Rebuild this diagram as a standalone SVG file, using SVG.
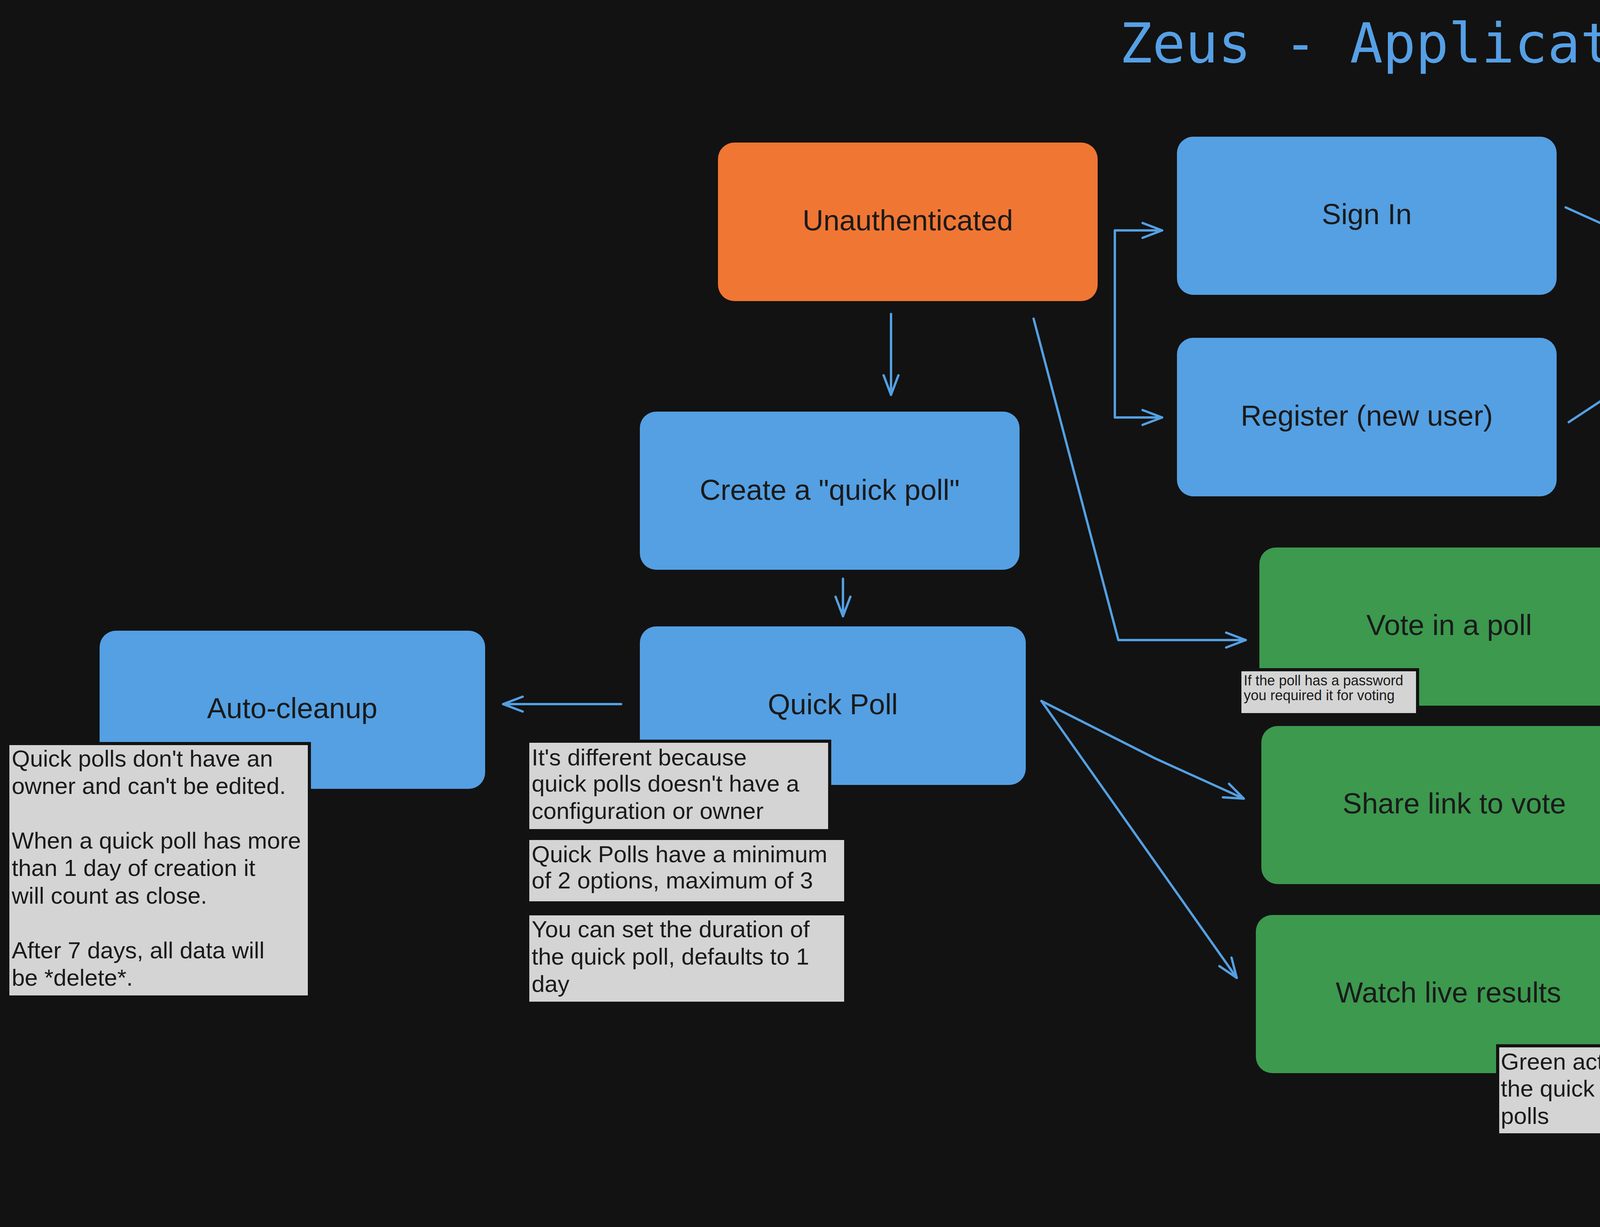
<svg xmlns="http://www.w3.org/2000/svg" width="7814" height="3142" viewBox="0 0 7814 3142">
<style>
.bg{fill:#121212}
.title{font-family:"DejaVu Sans Mono","Liberation Mono",monospace;font-size:140px;fill:#56a0e6;text-anchor:middle}
.lbl{font-family:"Liberation Sans",Arial,sans-serif;font-size:74px;fill:#1a1a1a;text-anchor:middle}
.nt{font-family:"Liberation Sans",Arial,sans-serif;font-size:60px;fill:#1a1a1a}
.nts{font-family:"Liberation Sans",Arial,sans-serif;font-size:36px;fill:#1a1a1a}
.blue{fill:#54a0e3}
.orange{fill:#f07634}
.green{fill:#3c994e}
.pink{fill:#e087f6}
.note{fill:#d4d4d4;stroke:#121212;stroke-width:8}
.conn{fill:none;stroke:#54a0e3;stroke-width:6;stroke-linecap:round;stroke-linejoin:round;marker-end:url(#ah)}
</style>
<defs>
<marker id="ah" markerUnits="userSpaceOnUse" markerWidth="80" markerHeight="60" viewBox="-60 -30 70 60" refX="0" refY="0" orient="auto-start-reverse">
<path d="M-50,-19 L0,0 L-50,19" fill="none" stroke="#54a0e3" stroke-width="6" stroke-linecap="round" stroke-linejoin="round"/>
</marker>
</defs>
<rect class="bg" x="0" y="0" width="7814" height="3142"/>
<text class="title" x="3835" y="160">Zeus - Application Flow</text>

<g id="connectors">
<path class="conn" d="M2281,804 L2281,1011"/>
<path class="conn" d="M2158,1482 L2158,1578"/>
<path class="conn" d="M1590,1803 L1288,1803"/>
<path class="conn" d="M2975,590 L2854,590 L2854,1069 L2975,1069" marker-start="url(#ah)"/>
<path class="conn" d="M4008,531 L4207,621"/>
<path class="conn" d="M4016,1081 L4204,957"/>
<path class="conn" d="M4732,797 L4930,797"/>
<path class="conn" d="M5969,769 L6189,769"/>
<path class="conn" d="M5449,985 L5449,1084"/>
<path class="conn" d="M5449,1567 L5449,1700"/>
<path class="conn" d="M5449,2183 L5449,2348"/>
<path class="conn" d="M2646,816 L2863,1639 L3189,1639"/>
<path class="conn" d="M4922,837 L4718,1603 L4329,1600"/>
<path class="conn" d="M2666,1795 L2957,1942 L3184,2045"/>
<path class="conn" d="M2666,1795 L3166,2504"/>
<path class="conn" d="M4965,1930 L4278,2130"/>
<path class="conn" d="M4965,1925 L4247,2574"/>
</g>

<g id="unauthenticated"><rect class="orange" x="1838" y="365" width="972" height="406" rx="42"/><text class="lbl" x="2324" y="590">Unauthenticated</text></g>
<g id="sign-in"><rect class="blue" x="3013" y="350" width="972" height="405" rx="42"/><text class="lbl" x="3499" y="574">Sign In</text></g>
<g id="register"><rect class="blue" x="3013" y="865" width="972" height="406" rx="42"/><text class="lbl" x="3499" y="1090">Register (new user)</text></g>
<g id="becomes"><path class="pink" d="M4452.5,541.4 L4652.5,750.6 Q4694,794 4652.4,837.2 L4452.6,1044.8 Q4411,1088 4369,1045.2 L4165,836.8 Q4123,794 4164.8,751 L4369.2,541 Q4411,498 4452.5,541.4 Z"/><text class="lbl" x="4411" y="816">Becomes</text></g>
<g id="authenticated"><rect class="orange" x="4964" y="562" width="972" height="406" rx="42"/><text class="lbl" x="5450" y="787">Authenticated</text></g>
<g id="dashboard"><rect class="blue" x="6227" y="543" width="971" height="406" rx="42"/><text class="lbl" x="6712" y="767">Dashboard</text></g>
<g id="create-quick-poll"><rect class="blue" x="1638" y="1054" width="972" height="405" rx="42"/><text class="lbl" x="2124" y="1280">Create a "quick poll"</text></g>
<g id="create-poll"><rect class="blue" x="4964" y="1118" width="972" height="405" rx="42"/><text class="lbl" x="5450" y="1342">Create a "poll"</text></g>
<g id="quick-poll"><rect class="blue" x="1638" y="1604" width="988" height="406" rx="42"/><text class="lbl" x="2132" y="1829">Quick Poll</text></g>
<g id="auto-cleanup"><rect class="blue" x="255" y="1615" width="987" height="405" rx="42"/><text class="lbl" x="748" y="1839">Auto-cleanup</text></g>
<g id="vote"><rect class="green" x="3224" y="1402" width="973" height="405" rx="42"/><text class="lbl" x="3710" y="1626">Vote in a poll</text></g>
<g id="share"><rect class="green" x="3229" y="1859" width="989" height="405" rx="42"/><text class="lbl" x="3723" y="2083">Share link to vote</text></g>
<g id="watch"><rect class="green" x="3215" y="2343" width="987" height="405" rx="42"/><text class="lbl" x="3708" y="2567">Watch live results</text></g>
<g id="poll"><rect class="blue" x="4987" y="1742" width="925" height="406" rx="42"/><text class="lbl" x="5449" y="1966">Poll</text></g>
<g id="configure"><rect class="blue" x="4936" y="2379" width="1052" height="296" rx="42"/><text class="lbl" x="5462" y="2549">Configure your poll</text></g>

<g id="note-auto-cleanup"><rect class="note" x="20" y="1904" width="772" height="649"/>
<text class="nt"><tspan x="30" y="1963">Quick polls don't have an</tspan><tspan x="30" y="2033">owner and can't be edited.</tspan><tspan x="30" y="2173">When a quick poll has more</tspan><tspan x="30" y="2243">than 1 day of creation it</tspan><tspan x="30" y="2314">will count as close.</tspan><tspan x="30" y="2454">After 7 days, all data will</tspan><tspan x="30" y="2524">be *delete*.</tspan></text></g>
<g id="note-quick-different"><rect class="note" x="1351" y="1898" width="773" height="229"/>
<text class="nt"><tspan x="1361" y="1960">It's different because</tspan><tspan x="1361" y="2027">quick polls doesn't have a</tspan><tspan x="1361" y="2097">configuration or owner</tspan></text></g>
<g id="note-quick-options"><rect class="note" x="1351" y="2147" width="814" height="165"/>
<text class="nt"><tspan x="1361" y="2208">Quick Polls have a minimum</tspan><tspan x="1361" y="2275">of 2 options, maximum of 3</tspan></text></g>
<g id="note-quick-duration"><rect class="note" x="1351" y="2340" width="814" height="229"/>
<text class="nt"><tspan x="1361" y="2400">You can set the duration of</tspan><tspan x="1361" y="2470">the quick poll, defaults to 1</tspan><tspan x="1361" y="2540">day</tspan></text></g>
<g id="note-vote"><rect class="note" x="3174" y="1715" width="455" height="115"/>
<text class="nts"><tspan x="3184" y="1755">If the poll has a password</tspan><tspan x="3184" y="1793">you required it for voting</tspan></text></g>
<g id="note-dashboard"><rect class="note" x="6603" y="834" width="1191" height="167"/>
<text class="nt"><tspan x="6612" y="895">Users have access to a dashboard with</tspan><tspan x="6612" y="965">their polls and a couple of stats.</tspan></text></g>
<g id="note-poll"><rect class="note" x="5599" y="2032" width="1189" height="164"/>
<text class="nt"><tspan x="5608" y="2091">Polls have a minimum of 2 options,</tspan><tspan x="5608" y="2160">maximum of 10.</tspan></text></g>
<g id="note-configure"><rect class="note" x="5413" y="2614" width="1191" height="506"/>
<text class="nt"><tspan x="5421" y="2675">Polls can have these configs:</tspan><tspan x="5421" y="2744">- Name</tspan><tspan x="5421" y="2815">- Description</tspan><tspan x="5421" y="2884">- Password</tspan><tspan x="5421" y="2953">- Time limit</tspan><tspan x="5532" y="3024">1. By "time" (defaults to Infinity)</tspan><tspan x="5532" y="3093">2. By "date" (closing date and hour)</tspan></text></g>
<g id="note-green"><rect class="note" x="3834" y="2678" width="881" height="228"/>
<text class="nt"><tspan x="3842" y="2739">Green actions are shared by</tspan><tspan x="3842" y="2808">the quick polls and the normal</tspan><tspan x="3842" y="2878">polls</tspan></text></g>
</svg>
